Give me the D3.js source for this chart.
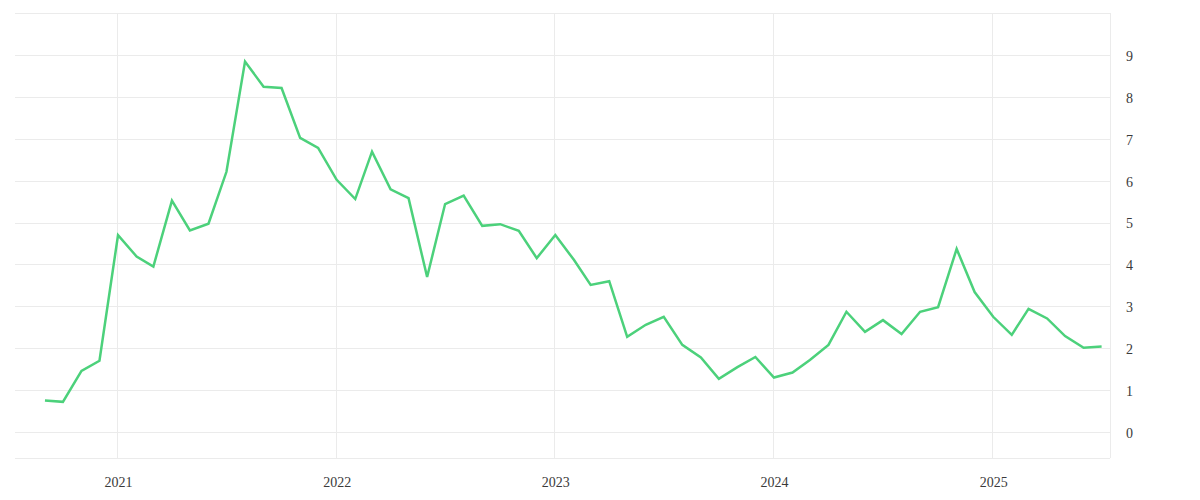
<!DOCTYPE html>
<html>
<head>
<meta charset="utf-8">
<script src="https://cdn.jsdelivr.net/npm/d3@7"></script>
<style>
  body { margin: 0; background: #fff; }
  text { font-family: "Liberation Serif", "DejaVu Serif", serif; }
</style>
</head>
<body>
<div id="vis"></div>
<script>
// monthly values, Sep 2020 .. Jul 2025
var startMonth = "2020-09";
var values = [
    0.75, 0.72, 1.46, 1.70,
    4.70, 4.19, 3.95, 5.52, 4.81, 4.97, 6.21, 8.84, 8.24, 8.21, 7.02, 6.78,
    6.02, 5.56, 6.69, 5.79, 5.58, 3.70, 5.44, 5.64, 4.92, 4.96, 4.80, 4.15,
    4.70, 4.11, 3.51, 3.60, 2.27, 2.56, 2.75, 2.08, 1.78, 1.27, 1.55, 1.79,
    1.30, 1.42, 1.72, 2.08, 2.87, 2.39, 2.67, 2.34, 2.87, 2.98, 4.37, 3.34,
    2.75, 2.32, 2.94, 2.71, 2.29, 2.01, 2.04
];
var yTicks = [0, 1, 2, 3, 4, 5, 6, 7, 8, 9];
var yearTicks = ["2021", "2022", "2023", "2024", "2025"];

var parseMonth = d3.timeParse("%Y-%m");
var first = parseMonth(startMonth);
var data = values.map(function(v, i){
    return { date: d3.timeMonth.offset(first, i), value: v };
});

var width = 1200, height = 500,
    plotLeft = 15, plotRight = 1110, plotTop = 13, plotBottom = 458;

var svg = d3.select("#vis").append("svg").attr("width", width).attr("height", height);

var x = d3.scaleTime()
    .domain([new Date(2020, 6, 13), new Date(2025, 6, 15)])
    .range([plotLeft, plotRight]);
var y = d3.scaleLinear()
    .domain([-0.62, 10])
    .range([plotBottom, plotTop]);

//grid
var grid = svg.append("g").attr("stroke", "#ebebeb").attr("stroke-width", 1);
grid.selectAll("line.h")
    .data(yTicks.concat([10]))
    .enter().append("line")
    .attr("x1", plotLeft).attr("x2", plotRight)
    .attr("y1", function(d){ return Math.round(y(d)) + 0.5; })
    .attr("y2", function(d){ return Math.round(y(d)) + 0.5; });
grid.append("line")
    .attr("x1", plotLeft).attr("x2", plotRight)
    .attr("y1", plotBottom + 0.5).attr("y2", plotBottom + 0.5);
grid.selectAll("line.v")
    .data(yearTicks)
    .enter().append("line")
    .attr("x1", function(d){ return Math.round(x(parseMonth(d + "-01"))) - 0.5; })
    .attr("x2", function(d){ return Math.round(x(parseMonth(d + "-01"))) - 0.5; })
    .attr("y1", plotTop).attr("y2", plotBottom);
grid.append("line")
    .attr("x1", plotRight + 0.5).attr("x2", plotRight + 0.5)
    .attr("y1", plotTop).attr("y2", plotBottom);

//axes
var yAxis = d3.axisRight(y).tickValues(yTicks).tickSize(0).tickPadding(16);
svg.append("g")
    .attr("transform", "translate(" + plotRight + ",1)")
    .call(yAxis)
    .call(function(g){ g.select(".domain").remove(); })
    .selectAll("text")
    .attr("font-family", "Liberation Serif, DejaVu Serif, serif")
    .attr("font-size", 14).attr("fill", "#3a3a3a");

var xAxis = d3.axisBottom(x)
    .tickValues(yearTicks.map(function(d){ return parseMonth(d + "-01"); }))
    .tickFormat(d3.timeFormat("%Y"))
    .tickSize(0).tickPadding(19);
svg.append("g")
    .attr("transform", "translate(0," + plotBottom + ")")
    .call(xAxis)
    .call(function(g){ g.select(".domain").remove(); })
    .selectAll("text")
    .attr("font-family", "Liberation Serif, DejaVu Serif, serif")
    .attr("font-size", 14).attr("fill", "#3a3a3a");

//line
var line = d3.line()
    .x(function(d){ return x(d.date); })
    .y(function(d){ return y(d.value); });
svg.append("path")
    .datum(data)
    .attr("d", line)
    .attr("fill", "none")
    .attr("stroke", "#4cd17b")
    .attr("stroke-width", 2.5)
    .attr("stroke-linejoin", "miter");
</script>
</body>
</html>
